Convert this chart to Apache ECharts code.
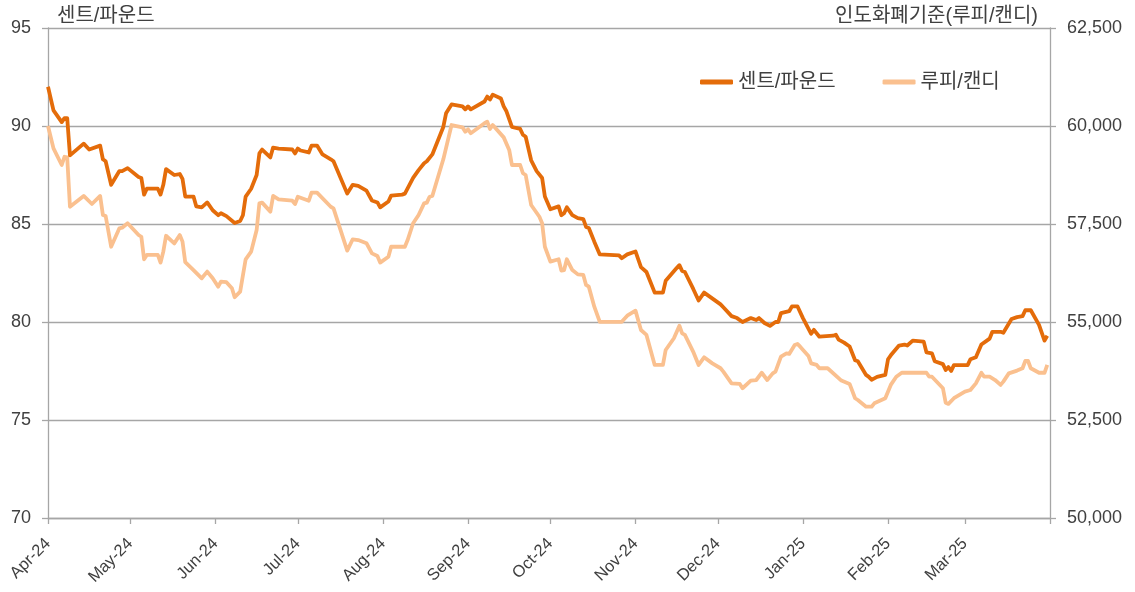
<!DOCTYPE html>
<html><head><meta charset="utf-8">
<script src="https://cdn.jsdelivr.net/npm/echarts@6/dist/echarts.min.js"></script>
<style>html,body{margin:0;padding:0;background:#fff}#c{width:1135px;height:592px}</style>
</head><body><div id="c"></div>
<script>
const leftAxisName = '센트/파운드';
const rightAxisName = '인도화폐기준(루피/캔디)';
const seriesNames = ['센트/파운드', '루피/캔디'];
const monthLabels = ['Apr-24','May-24','Jun-24','Jul-24','Aug-24','Sep-24','Oct-24','Nov-24','Dec-24','Jan-25','Feb-25','Mar-25'];

const centDates = ['2024-04-01','2024-04-03','2024-04-06','2024-04-07','2024-04-08','2024-04-09','2024-04-14','2024-04-16','2024-04-20','2024-04-21','2024-04-22','2024-04-24','2024-04-27','2024-04-28','2024-04-30','2024-05-04','2024-05-05','2024-05-06','2024-05-07','2024-05-11','2024-05-12','2024-05-13','2024-05-14','2024-05-17','2024-05-19','2024-05-20','2024-05-21','2024-05-24','2024-05-25','2024-05-27','2024-05-29','2024-05-31','2024-06-02','2024-06-03','2024-06-05','2024-06-08','2024-06-10','2024-06-11','2024-06-12','2024-06-14','2024-06-16','2024-06-17','2024-06-18','2024-06-21','2024-06-22','2024-06-24','2024-06-29','2024-06-30','2024-07-01','2024-07-02','2024-07-05','2024-07-06','2024-07-08','2024-07-10','2024-07-13','2024-07-14','2024-07-19','2024-07-21','2024-07-23','2024-07-26','2024-07-28','2024-07-30','2024-07-31','2024-08-03','2024-08-04','2024-08-08','2024-08-09','2024-08-12','2024-08-14','2024-08-16','2024-08-17','2024-08-19','2024-08-23','2024-08-24','2024-08-26','2024-08-30','2024-08-31','2024-09-01','2024-09-02','2024-09-07','2024-09-08','2024-09-09','2024-09-10','2024-09-13','2024-09-14','2024-09-15','2024-09-17','2024-09-20','2024-09-21','2024-09-22','2024-09-24','2024-09-26','2024-09-28','2024-09-29','2024-10-01','2024-10-04','2024-10-05','2024-10-06','2024-10-07','2024-10-09','2024-10-11','2024-10-13','2024-10-14','2024-10-15','2024-10-17','2024-10-19','2024-10-26','2024-10-27','2024-10-29','2024-11-01','2024-11-03','2024-11-05','2024-11-08','2024-11-11','2024-11-12','2024-11-16','2024-11-17','2024-11-18','2024-11-19','2024-11-22','2024-11-24','2024-11-26','2024-12-02','2024-12-03','2024-12-06','2024-12-08','2024-12-10','2024-12-13','2024-12-15','2024-12-16','2024-12-18','2024-12-20','2024-12-22','2024-12-23','2024-12-24','2024-12-27','2024-12-28','2024-12-30','2025-01-01','2025-01-04','2025-01-05','2025-01-07','2025-01-12','2025-01-13','2025-01-14','2025-01-16','2025-01-18','2025-01-20','2025-01-21','2025-01-24','2025-01-25','2025-01-26','2025-01-28','2025-01-31','2025-02-01','2025-02-02','2025-02-05','2025-02-07','2025-02-08','2025-02-10','2025-02-14','2025-02-15','2025-02-17','2025-02-18','2025-02-21','2025-02-22','2025-02-23','2025-02-24','2025-02-25','2025-03-02','2025-03-03','2025-03-05','2025-03-07','2025-03-09','2025-03-10','2025-03-11','2025-03-14','2025-03-15','2025-03-18','2025-03-20','2025-03-22','2025-03-23','2025-03-25','2025-03-28','2025-03-30','2025-03-31'];
const centValues = [92.0,90.8,90.2,90.4,90.4,88.5,89.1,88.8,89.0,88.3,88.2,87.0,87.7,87.7,87.85,87.4,87.35,86.5,86.8,86.8,86.5,87.0,87.8,87.5,87.55,87.3,86.4,86.4,85.9,85.85,86.1,85.7,85.45,85.55,85.4,85.05,85.15,85.45,86.4,86.8,87.5,88.6,88.8,88.4,88.9,88.85,88.8,88.6,88.85,88.75,88.65,89.0,89.0,88.55,88.3,88.2,86.55,87.0,86.95,86.7,86.2,86.1,85.85,86.15,86.45,86.5,86.55,87.35,87.75,88.1,88.2,88.55,89.95,90.65,91.1,91.0,90.85,91.0,90.85,91.25,91.5,91.35,91.6,91.4,91.0,90.75,89.95,89.85,89.55,89.45,88.25,87.7,87.35,86.4,85.75,85.9,85.45,85.55,85.85,85.45,85.3,85.25,84.85,84.8,84.1,83.45,83.4,83.25,83.45,83.6,82.8,82.55,81.5,81.5,82.1,82.75,82.9,82.6,82.55,81.7,81.1,81.5,80.9,80.75,80.3,80.2,80.0,80.2,80.1,80.2,79.95,79.8,80.0,80.0,80.45,80.55,80.8,80.8,80.2,79.4,79.6,79.25,79.3,79.35,79.1,78.95,78.75,78.05,78.0,77.3,77.2,77.05,77.2,77.3,78.1,78.3,78.8,78.85,78.8,79.05,79.0,78.45,78.4,78.0,77.85,77.55,77.7,77.5,77.8,77.8,78.1,78.2,78.85,79.05,79.15,79.5,79.5,79.45,80.15,80.25,80.3,80.6,80.6,79.85,79.05,79.3];

const rupeeDates = ['2024-04-01','2024-04-03','2024-04-06','2024-04-07','2024-04-08','2024-04-09','2024-04-14','2024-04-17','2024-04-20','2024-04-21','2024-04-22','2024-04-24','2024-04-27','2024-04-28','2024-04-30','2024-05-04','2024-05-05','2024-05-06','2024-05-07','2024-05-11','2024-05-12','2024-05-13','2024-05-14','2024-05-17','2024-05-19','2024-05-20','2024-05-21','2024-05-24','2024-05-27','2024-05-29','2024-05-31','2024-06-02','2024-06-03','2024-06-05','2024-06-07','2024-06-08','2024-06-10','2024-06-12','2024-06-14','2024-06-16','2024-06-17','2024-06-18','2024-06-21','2024-06-22','2024-06-24','2024-06-29','2024-06-30','2024-07-01','2024-07-05','2024-07-06','2024-07-08','2024-07-13','2024-07-14','2024-07-19','2024-07-21','2024-07-23','2024-07-26','2024-07-28','2024-07-30','2024-07-31','2024-08-03','2024-08-04','2024-08-09','2024-08-10','2024-08-12','2024-08-14','2024-08-16','2024-08-17','2024-08-18','2024-08-19','2024-08-23','2024-08-26','2024-08-30','2024-08-31','2024-09-01','2024-09-02','2024-09-07','2024-09-08','2024-09-09','2024-09-10','2024-09-14','2024-09-16','2024-09-17','2024-09-20','2024-09-21','2024-09-22','2024-09-24','2024-09-27','2024-09-28','2024-09-29','2024-10-01','2024-10-04','2024-10-05','2024-10-06','2024-10-07','2024-10-09','2024-10-11','2024-10-13','2024-10-14','2024-10-15','2024-10-17','2024-10-19','2024-10-27','2024-10-29','2024-11-01','2024-11-03','2024-11-05','2024-11-08','2024-11-11','2024-11-12','2024-11-15','2024-11-17','2024-11-18','2024-11-19','2024-11-22','2024-11-24','2024-11-26','2024-11-29','2024-12-02','2024-12-03','2024-12-06','2024-12-09','2024-12-10','2024-12-13','2024-12-15','2024-12-17','2024-12-19','2024-12-21','2024-12-22','2024-12-24','2024-12-26','2024-12-27','2024-12-29','2024-12-30','2024-12-31','2025-01-03','2025-01-04','2025-01-06','2025-01-07','2025-01-10','2025-01-15','2025-01-18','2025-01-20','2025-01-21','2025-01-24','2025-01-26','2025-01-27','2025-01-31','2025-02-02','2025-02-04','2025-02-06','2025-02-15','2025-02-16','2025-02-17','2025-02-21','2025-02-22','2025-02-23','2025-02-25','2025-02-27','2025-03-01','2025-03-03','2025-03-05','2025-03-07','2025-03-08','2025-03-10','2025-03-12','2025-03-14','2025-03-15','2025-03-17','2025-03-20','2025-03-22','2025-03-23','2025-03-24','2025-03-25','2025-03-28','2025-03-30','2025-03-31'];
const rupeeValues = [60000,59430,59005,59215,59200,57940,58215,58010,58215,57730,57705,56920,57390,57405,57520,57220,57175,56600,56710,56710,56515,56795,57200,57005,57220,57050,56525,56325,56115,56285,56115,55900,56030,56015,55860,55630,55775,56600,56795,57345,58025,58045,57815,58215,58130,58095,58010,58195,58095,58300,58300,57940,57900,56820,57110,57090,57010,56750,56685,56515,56665,56920,56920,57090,57520,57730,58025,58045,58195,58215,59150,60025,59965,59855,59915,59815,60070,60110,59925,60025,59710,59390,59005,59005,58795,58750,57985,57685,57520,56920,56540,56600,56310,56325,56600,56325,56215,56200,55945,55900,55390,55005,55005,55160,55290,54795,54670,53905,53905,54285,54585,54905,54710,54670,54245,53905,54100,53945,53820,53735,53435,53420,53310,53505,53520,53705,53520,53690,53735,54115,54200,54185,54415,54440,54370,54135,53945,53905,53820,53820,53505,53420,53055,53010,52840,52840,52925,53055,53395,53605,53705,53705,53605,53605,53310,52940,52910,53055,53140,53225,53265,53435,53705,53605,53605,53520,53395,53480,53690,53760,53820,54005,54005,53820,53705,53705,53905];

// axis categories: every day of the period
const days = [];
for (let t = Date.UTC(2024, 3, 1); t <= Date.UTC(2025, 3, 1); t += 86400000) {
  days.push(new Date(t).toISOString().slice(0, 10));
}
const lastIdx = days.length - 1;
const monthMap = {};
days.filter(d => d.slice(8) === '01').slice(0, 12).forEach((d, i) => { monthMap[d] = monthLabels[i]; });

const font = "'Liberation Sans', Arial, 'Noto Sans CJK KR', sans-serif";
const txt = '#404040';
const gridColor = '#A6A6A6';

const chart = echarts.init(document.getElementById('c'));
chart.setOption({
  animation: false,
  textStyle: { fontFamily: font },
  title: [
    { text: leftAxisName, left: 52, top: 1, textStyle: { fontSize: 20, fontWeight: 'normal', color: txt, fontFamily: font } },
    { text: rightAxisName, right: 92, top: 1, textStyle: { fontSize: 20, fontWeight: 'normal', color: txt, fontFamily: font } }
  ],
  legend: {
    left: 695, top: 67, itemWidth: 33, itemHeight: 5, itemGap: 47, icon: 'roundRect',
    textStyle: { fontSize: 20, color: txt, fontFamily: font },
    data: seriesNames
  },
  grid: { left: 48, right: 85, top: 28, bottom: 74, containLabel: false },
  xAxis: {
    type: 'category', data: days, boundaryGap: false,
    axisLine: { lineStyle: { color: gridColor, width: 1.3 } },
    axisTick: { show: true, length: 6, interval: (i, v) => v.slice(8) === '01', lineStyle: { color: gridColor, width: 1.3 } },
    axisLabel: {
      interval: (i, v) => v.slice(8) === '01' && i < lastIdx,
      formatter: v => monthMap[v] || '',
      rotate: 45, margin: 23, fontSize: 16.5, color: txt, fontFamily: font
    },
    splitLine: { show: false }
  },
  yAxis: [
    {
      type: 'value', min: 70, max: 95, interval: 5, position: 'left',
      axisLine: { show: true, lineStyle: { color: gridColor, width: 1.3 } },
      axisTick: { show: true, length: 6, lineStyle: { color: gridColor, width: 1.3 } },
      axisLabel: { fontSize: 18, color: txt, margin: 17, fontFamily: font },
      splitLine: { show: true, lineStyle: { color: gridColor, width: 1.3 } }
    },
    {
      type: 'value', min: 50000, max: 62500, interval: 2500, position: 'right',
      axisLine: { show: true, lineStyle: { color: gridColor, width: 1.3 } },
      axisTick: { show: true, length: 6, lineStyle: { color: gridColor, width: 1.3 } },
      axisLabel: { fontSize: 18, color: txt, margin: 17, fontFamily: font,
        formatter: v => v.toLocaleString('en-US') },
      splitLine: { show: false }
    }
  ],
  series: [
    {
      name: seriesNames[1], type: 'line', yAxisIndex: 1, showSymbol: false, symbol: 'none',
      lineStyle: { color: '#FAC08F', width: 3.8, join: 'round' }, itemStyle: { color: '#FAC08F' },
      data: rupeeDates.map((d, i) => [d, rupeeValues[i]]), z: 2
    },
    {
      name: seriesNames[0], type: 'line', yAxisIndex: 0, showSymbol: false, symbol: 'none',
      lineStyle: { color: '#E46C0A', width: 3.8, join: 'round' }, itemStyle: { color: '#E46C0A' },
      data: centDates.map((d, i) => [d, centValues[i]]), z: 3
    }
  ]
});
</script></body></html>
